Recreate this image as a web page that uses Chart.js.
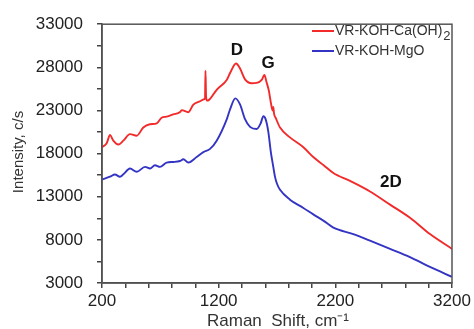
<!DOCTYPE html>
<html><head><meta charset="utf-8">
<script src="https://cdn.jsdelivr.net/npm/chart.js@4/dist/chart.umd.min.js"></script>
<style>html,body{margin:0;padding:0;background:#fff}canvas{display:block}</style>
</head><body>
<canvas id="c" width="474" height="329"></canvas>
<script>
// Series: VR-KOH-Ca(OH)2 (red)
const redShift = [200,240,269,297,340,383,440,497,554,611,669,711,754,811,869,883,940,983,1040,1075,1083,1087,1092,1100,1115,1183,1269,1300,1349,1383,1426,1483,1526,1569,1592,1610,1630,1650,1663,1668,1675,1690,1726,1811,1926,2011,2100,2183,2326,2497,2669,2840,3011,3200];
const redIntensity = [18740,19200,20150,19500,19050,19500,20260,20070,21020,21400,21510,22160,22280,22540,22810,23040,22800,23680,24070,24300,24400,27600,24600,24150,24200,25400,26530,27400,28440,27870,26610,26160,26200,26540,27110,26300,25300,23700,23000,23400,22600,22100,21020,19880,18740,17600,16650,15750,14830,13610,12090,10560,8670,6960];
// Series: VR-KOH-MgO (blue)
const blueShift = [200,269,311,354,383,440,497,569,612,654,697,754,812,869,897,940,1011,1069,1126,1183,1269,1297,1343,1383,1426,1469,1526,1560,1583,1603,1626,1646,1669,1683,1700,1726,1811,1926,2011,2100,2183,2354,2497,2669,2840,3011,3200];
const blueIntensity = [15000,15320,15580,15320,15600,16270,15890,16460,16270,16650,16460,16960,17030,17140,17340,16960,17600,18170,18550,19500,21970,23110,24400,23700,22000,21100,20850,21500,22330,21970,20500,18300,16400,15300,14500,13800,12660,11700,10950,10200,9420,8670,7900,6960,6000,4860,3720];
const seriesNames = ['VR-KOH-Ca(OH)', 'VR-KOH-MgO'];
const xTickLabels = [200,1200,2200,3200];
const yTickLabels = [3000,8000,13000,18000,23000,28000,33000];
// Peak annotations (text, shift, intensity)
const peakLabels = ['D','G','2D'];
const peakShift = [1357,1623,2677];
const peakIntensity = [29920,28440,14640];

const toPts = (xs, ys) => xs.map((x,i)=>({x, y: ys[i]}));
const FONT = '"Liberation Sans", Arial, sans-serif';

const extras = {
  id: 'extras',
  afterDraw(chart){
    const {ctx, chartArea:a, scales:{x, y}} = chart;
    ctx.save();
    // frame
    ctx.strokeStyle = '#555'; ctx.lineWidth = 1.5;
    ctx.strokeRect(a.left, a.top, a.right - a.left, a.bottom - a.top);
    // legend
    const cols = ['#f22a2a', '#3434c4'];
    ctx.textBaseline = 'middle'; ctx.textAlign = 'left';
    [31, 51].forEach((ly, i) => {
      ctx.strokeStyle = cols[i]; ctx.lineWidth = 2;
      ctx.beginPath(); ctx.moveTo(312, ly); ctx.lineTo(334, ly); ctx.stroke();
      ctx.fillStyle = '#333';
      ctx.font = '14px ' + FONT;
      ctx.fillText(seriesNames[i], 335, ly);
      if (i === 0) {
        const w = ctx.measureText(seriesNames[i]).width;
        ctx.font = '13px ' + FONT;
        ctx.fillText('2', 335 + w + 1, ly + 5);
      }
    });
    // peak labels
    ctx.font = 'bold 17px ' + FONT; ctx.textAlign = 'center'; ctx.fillStyle = '#111';
    peakLabels.forEach((t, i) => {
      ctx.fillText(t, x.getPixelForValue(peakShift[i]), y.getPixelForValue(peakIntensity[i]));
    });
    // axis titles
    ctx.fillStyle = '#333';
    ctx.font = '17px ' + FONT;
    ctx.fillText('Raman  Shift, cm\u207B\u00B9', 278, 321);
    ctx.translate(19, 152);
    ctx.rotate(-Math.PI / 2);
    ctx.font = '15px ' + FONT;
    ctx.fillText('Intensity, c/s', 0, 0);
    ctx.restore();
  }
};

new Chart(document.getElementById('c'), {
  type: 'line',
  data: {
    datasets: [
      {label: seriesNames[0], data: toPts(redShift, redIntensity), borderColor: '#f22a2a', borderWidth: 1.9, pointRadius: 0, cubicInterpolationMode: 'monotone', fill: false},
      {label: seriesNames[1], data: toPts(blueShift, blueIntensity), borderColor: '#3434c4', borderWidth: 1.9, pointRadius: 0, cubicInterpolationMode: 'monotone', fill: false}
    ]
  },
  options: {
    responsive: false, animation: false, devicePixelRatio: 1,
    layout: {padding: {left: 0, right: 22, top: 20, bottom: 0}},
    plugins: {legend: {display: false}, tooltip: {enabled: false}, title: {display: false}},
    scales: {
      x: {
        type: 'linear', min: 200, max: 3200,
        ticks: {stepSize: 200, autoSkip: false, maxRotation: 0, padding: 3, color: '#222', font: {size: 17, family: FONT},
          callback: v => xTickLabels.includes(v) ? String(v) : ''},
        grid: {display: true, drawOnChartArea: false, drawTicks: true, tickLength: 5, color: '#444', lineWidth: 1.5},
        border: {display: true, color: '#444', width: 1.5},
        afterFit: s => { s.height = 46; }
      },
      y: {
        type: 'linear', min: 3000, max: 33000,
        ticks: {stepSize: 2500, autoSkip: false, padding: 14, color: '#222', font: {size: 17, family: FONT},
          callback: v => yTickLabels.includes(v) ? String(v) : ''},
        grid: {display: true, drawOnChartArea: false, drawTicks: true, tickLength: 5, color: '#444', lineWidth: 1.5},
        border: {display: true, color: '#444', width: 1.5},
        afterFit: s => { s.width = 102; }
      }
    }
  },
  plugins: [extras]
});
</script>
</body></html>
